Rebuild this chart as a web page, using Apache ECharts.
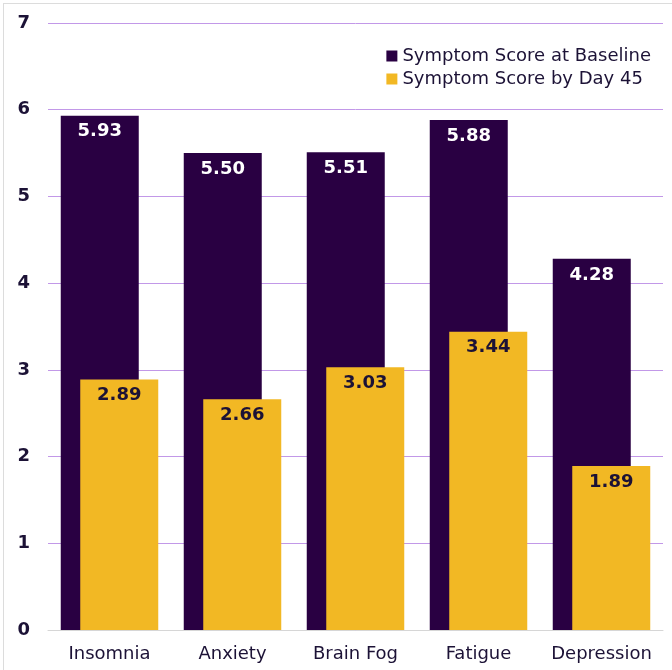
<!DOCTYPE html>
<html>
<head>
<meta charset="utf-8">
<script src="https://cdn.jsdelivr.net/npm/echarts@6/dist/echarts.min.js"></script>
<style>
  html, body { margin: 0; padding: 0; background: #fff; overflow: hidden; }
  #main { width: 672px; height: 670px; }
  .frame { position: absolute; left: 3px; top: 3px; width: 669px; height: 667px;
    border-left: 1px solid #dcdcdc; border-top: 1px solid #dcdcdc; pointer-events: none; box-sizing: border-box; }
</style>
</head>
<body>
<div id="main"></div>
<div class="frame"></div>
<script>
// 症状得分数据
var categories = ["Insomnia", "Anxiety", "Brain Fog", "Fatigue", "Depression"];
var baselineScores = [5.93, 5.50, 5.51, 5.88, 4.28];
var day45Scores = [2.89, 2.66, 3.03, 3.44, 1.89];
var seriesNames = ["Symptom Score at Baseline", "Symptom Score by Day 45"];

var purple = "#290042";
var yellow = "#f2b824";
var textColor = "#1c1236";
var fontFam = "DejaVu Sans";

var chart = echarts.init(document.getElementById("main"));

var option = {
  animation: false,
  textStyle: { fontFamily: fontFam },
  grid: { left: 48, right: 9, top: 23, bottom: 40 },
  legend: {
    orient: "vertical",
    right: 16,
    top: 42,
    itemWidth: 11,
    itemHeight: 11,
    itemGap: 5,
    icon: "rect",
    textStyle: { fontSize: 18, color: textColor, fontFamily: fontFam },
    data: seriesNames
  },
  xAxis: {
    type: "category",
    data: categories,
    axisLine: { lineStyle: { color: "#d6d6d6", width: 1 } },
    axisTick: { show: false },
    axisLabel: { interval: 0, fontSize: 18, color: textColor, margin: 15, fontFamily: fontFam }
  },
  yAxis: {
    type: "value",
    min: 0,
    max: 7,
    interval: 1,
    axisLine: { show: false },
    axisTick: { show: false },
    axisLabel: { fontSize: 18, fontWeight: "bold", color: textColor, margin: 18, fontFamily: fontFam },
    splitLine: { lineStyle: { color: "#c298e8", width: 1 } }
  },
  series: [
    {
      name: seriesNames[0],
      type: "bar",
      data: baselineScores,
      barWidth: 78,
      barGap: "-75%",
      itemStyle: { color: purple },
      label: {
        show: true,
        position: "insideTop",
        distance: 7,
        color: "#ffffff",
        fontSize: 18,
        fontWeight: "bold",
        fontFamily: fontFam,
        formatter: function (p) { return p.value.toFixed(2); }
      }
    },
    {
      name: seriesNames[1],
      type: "bar",
      data: day45Scores,
      barWidth: 78,
      itemStyle: { color: yellow },
      label: {
        show: true,
        position: "insideTop",
        distance: 7,
        color: textColor,
        fontSize: 18,
        fontWeight: "bold",
        fontFamily: fontFam,
        formatter: function (p) { return p.value.toFixed(2); }
      }
    }
  ]
};

chart.setOption(option);
window.addEventListener("resize", function () { chart.resize(); });
</script>
</body>
</html>
